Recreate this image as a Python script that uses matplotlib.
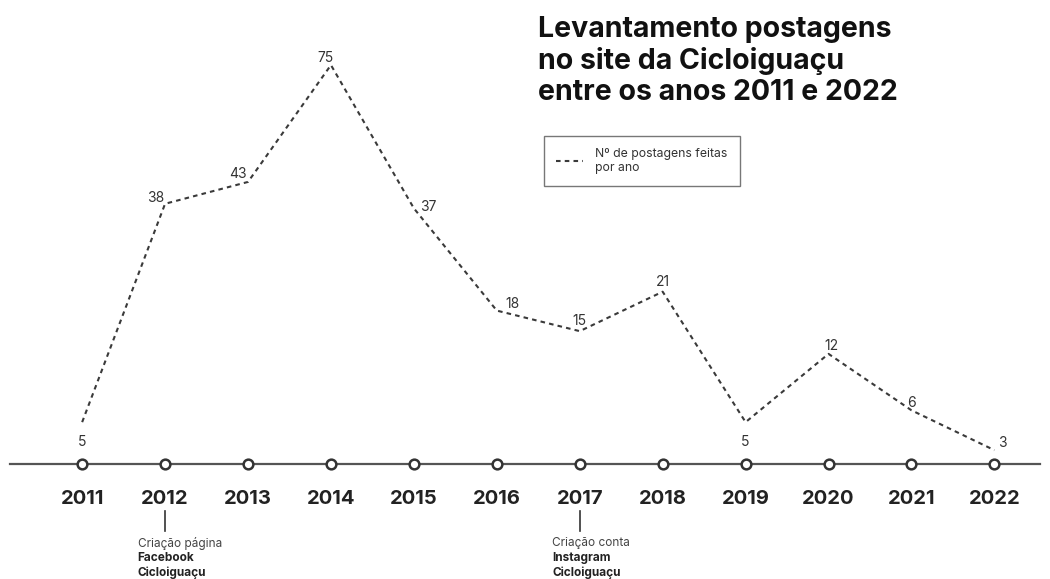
import matplotlib
matplotlib.use("Agg")
import matplotlib.pyplot as plt
import numpy as np

plt.rcParams['font.family'] = ['Inter', 'DejaVu Sans']

# Data
years = [2011, 2012, 2013, 2014, 2015, 2016, 2017, 2018, 2019, 2020, 2021, 2022]
posts = [5, 38, 43, 75, 37, 18, 15, 21, 5, 12, 6, 3]
title = "Levantamento postagens\nno site da Cicloiguaçu\nentre os anos 2011 e 2022"
legend_label = "Nº de postagens feitas\npor ano"
events = {2012: ("Criação página", "Facebook\nCicloiguaçu"),
          2017: ("Criação conta", "Instagram\nCicloiguaçu")}

# label offsets in points (style only)
label_offsets = [(0, -14), (-7, 4), (-7, 6), (-4, 5), (10, 1), (11, 5),
                 (0, 7), (0, 7), (0, -14), (2, 6), (0, 5), (6, 5)]

DARK = "#333333"

fig = plt.figure(figsize=(10.5, 5.79), dpi=100)
ax = fig.add_axes([10/1050, 1 - 464/579, 1030/1050, 424/579])

# sqrt scale keeps the hand-drawn look of the original
ax.set_yscale("function", functions=(np.sqrt, np.square))
ax.set_ylim(2.2, 83)
ax.set_xlim(2010.13, 2022.55)

line, = ax.plot(years, posts, color="#3a3a3a", lw=1.5, ls=(0, (2.2, 2.0)),
                label=legend_label, clip_on=False, zorder=3)

for x, y, (dx, dy) in zip(years, posts, label_offsets):
    ax.annotate(str(y), (x, y), xytext=(dx, dy), textcoords="offset points",
                ha="center", va="center", fontsize=10, color="#333333")

# the timeline is the bottom spine
for s in ["top", "right", "left"]:
    ax.spines[s].set_visible(False)
ax.spines["bottom"].set_color("#555555")
ax.spines["bottom"].set_linewidth(1.6)
ax.set_yticks([])
ax.minorticks_off()
ax.set_xticks(years)
ax.set_xticklabels([str(y) for y in years], fontsize=14.5, fontweight="bold",
                   color="#222222")
ax.tick_params(axis="x", length=0, pad=19)
ax.plot(years, [0] * len(years), "o", transform=ax.get_xaxis_transform(),
        ms=7, mfc="white", mec=DARK, mew=1.8, clip_on=False, zorder=4)

# event notes below the years
tx = ax.get_xaxis_transform()
for yr, (plain, bold) in events.items():
    ax.plot([yr, yr], [-0.11, -0.157], color=DARK, lw=1.2,
            transform=tx, clip_on=False)
    ax.text(yr - 0.33, -0.187, plain, transform=tx, fontsize=8.5, color="#444444",
            va="center", ha="left")
    ax.text(yr - 0.33, -0.207, bold, transform=tx, fontsize=8.5, fontweight="bold",
            color="#222222", va="top", ha="left", linespacing=1.25)

fig.text(538/1050, 1 - 16/579, title, fontsize=20.5, fontweight="bold",
         color="#111111", va="top", ha="left", linespacing=1.18)

fig.legend(handles=[line], loc="upper left",
           bbox_to_anchor=(544/1050, 1 - 136/579), frameon=True, fancybox=False,
           edgecolor="#555555", fontsize=8.8, handlelength=2.2, borderpad=1.0,
           borderaxespad=0, labelcolor="#333333", handletextpad=1.0)

fig.savefig("out.png", dpi=100, facecolor="white")
